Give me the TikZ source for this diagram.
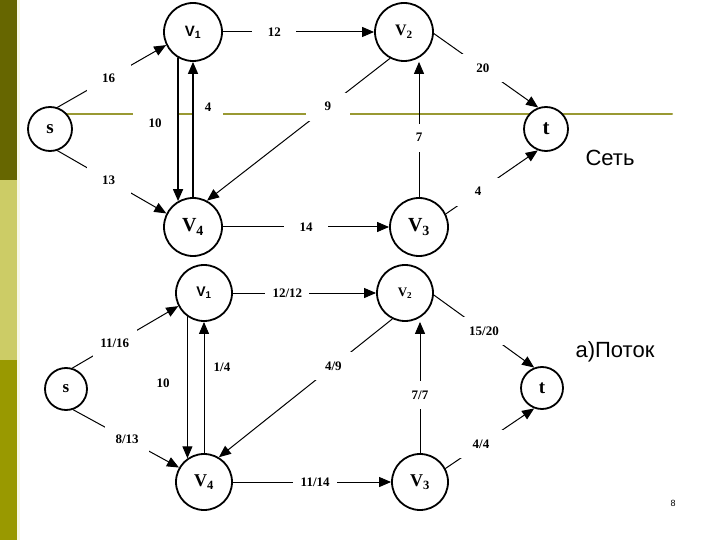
\documentclass[tikz,border=0pt]{standalone}
\usepackage{fontspec}
\setmainfont{Liberation Serif}
\setsansfont{Liberation Sans}
\usetikzlibrary{arrows.meta}
\definecolor{olivedark}{HTML}{666600}
\definecolor{olivelight}{HTML}{CCCC66}
\definecolor{olivemid}{HTML}{999900}
\definecolor{oliveline}{HTML}{999933}
\definecolor{olivestrip}{HTML}{F8F8E4}
\begin{document}
\begin{tikzpicture}[>={Triangle[length=12pt,width=10pt]},line join=round,line cap=round,x=1pt,y=-1pt,
	vtx/.style={circle,draw,line width=1.8pt,fill=white,inner sep=0pt,minimum size=58pt,font=\fontsize{16}{16}\selectfont\bfseries},
	term/.style={vtx,minimum size=44pt,font=\fontsize{19}{19}\selectfont\bfseries},
	wlabel/.style={fill=white,inner sep=0pt,minimum width=44pt,minimum height=28pt,font=\fontsize{13}{13}\selectfont\bfseries},
	flowarc/.style={->,line width=1pt},
	slidetext/.style={font=\sffamily\fontsize{22}{22}\selectfont}]
	\useasboundingbox (0,0) rectangle (720,540);
	% slide background
	\fill[olivedark] (0,0) rectangle (17,180);
	\fill[olivelight] (0,180) rectangle (17,360);
	\fill[olivemid] (0,360) rectangle (17,540);
	\fill[olivestrip] (17,0) rectangle (20,540);
	\draw[oliveline,line width=2pt] (50,114)--(672,114);
	% network
	\node[term] (s) at (50,129) {s};
	\node[vtx,font=\sffamily\fontsize{15}{15}\selectfont\bfseries] (v1) at (193,32) {V\textsubscript{1}};
	\node[vtx] (v2) at (404,32) {V\textsubscript{2}};
	\node[vtx,font=\fontsize{20}{20}\selectfont\bfseries] (v3) at (419,227) {V\textsubscript{3}};
	\node[vtx,font=\fontsize{20}{20}\selectfont\bfseries] (v4) at (193,227) {V\textsubscript{4}};
	\node[term,font=\fontsize{21}{21}\selectfont\bfseries] (t) at (546,129) {t};
	\node[wlabel] (c10) at (155,123) {10};
	\node[wlabel,minimum width=30pt] (c4a) at (208,107) {4};
	\draw[flowarc] (s.71)--(v1.206) node[wlabel,pos=.47] (c16) {16};
	\draw[flowarc] (s.-71)--(v4.153) node[wlabel,pos=.47] (c13) {13};
	\draw[flowarc] (v1.east)--(v2.west) node[wlabel,pos=.34] (c12) {12};
	\draw[->,line width=1.6pt] (v1.240)--(v4.120);
	\draw[->,line width=1.4pt] (v4.north)--(v1.south);
	\draw[flowarc] (v2.242)--(v4.62) node[wlabel,pos=.34] (c9) {9};
	\draw[flowarc] (v2.-3)--(t.110) node[wlabel,pos=.47] (c20) {20};
	\draw[flowarc] (v3.north)--(v3.north|-v2.south) node[wlabel,pos=.44] (c7) {7};
	\draw[flowarc] (v3.26)--(t.-111) node[wlabel,pos=.35] (c4b) {4};
	\draw[flowarc] (v4.east)--(v3.west) node[wlabel,pos=.5] (c14) {14};
	\node[slidetext] (net) at (610,158) {Сеть};
	% flow
	\node[term,minimum size=42pt,font=\fontsize{17}{17}\selectfont\bfseries] (fs) at (66,389) {s};
	\node[vtx,minimum size=56pt,font=\sffamily\fontsize{14}{14}\selectfont\bfseries] (f1) at (204,293) {V\textsubscript{1}};
	\node[vtx,minimum size=56pt,font=\fontsize{13}{13}\selectfont\bfseries] (f2) at (405,293) {V\textsubscript{2}};
	\node[vtx,minimum size=56pt,font=\fontsize{18}{18}\selectfont\bfseries] (f3) at (420,482) {V\textsubscript{3}};
	\node[vtx,minimum size=56pt,font=\fontsize{18}{18}\selectfont\bfseries] (f4) at (204,482) {V\textsubscript{4}};
	\node[term,minimum size=42pt,font=\fontsize{19}{19}\selectfont\bfseries] (ft) at (542,388) {t};
	\node[wlabel] (d10) at (163,383) {10};
	\node[wlabel,minimum width=30pt] (d14a) at (222,367) {1/4};
	\draw[flowarc] (fs.73)--(f1.207) node[wlabel,pos=.4] (d1116) {11/16};
	\draw[flowarc] (fs.-71)--(f4.150) node[wlabel,pos=.51] (d813) {8/13};
	\draw[flowarc] (f1.east)--(f2.west) node[wlabel,pos=.38] (d1212) {12/12};
	\draw[flowarc] (f1.235)--(f4.125);
	\draw[flowarc] (f4.north)--(f1.south);
	\draw[flowarc] (f2.-116)--(f4.59) node[wlabel,pos=.34] (d49) {4/9};
	\draw[flowarc] (f2.-4)--(ft.111) node[wlabel,pos=.5] (d1520) {15/20};
	\draw[flowarc] (f3.north)--(f3.north|-f2.south) node[wlabel,pos=.44] (d77) {7/7};
	\draw[flowarc] (f3.28)--(ft.-111) node[wlabel,pos=.4] (d44) {4/4};
	\draw[flowarc] (f4.east)--(f3.west) node[wlabel,pos=.52] (d1114) {11/14};
	\node[slidetext] (flow) at (615,352) {а)Поток};
	\node[font=\sffamily\fontsize{9}{9}\selectfont] (page) at (673,503) {8};
\end{tikzpicture}
\end{document}
